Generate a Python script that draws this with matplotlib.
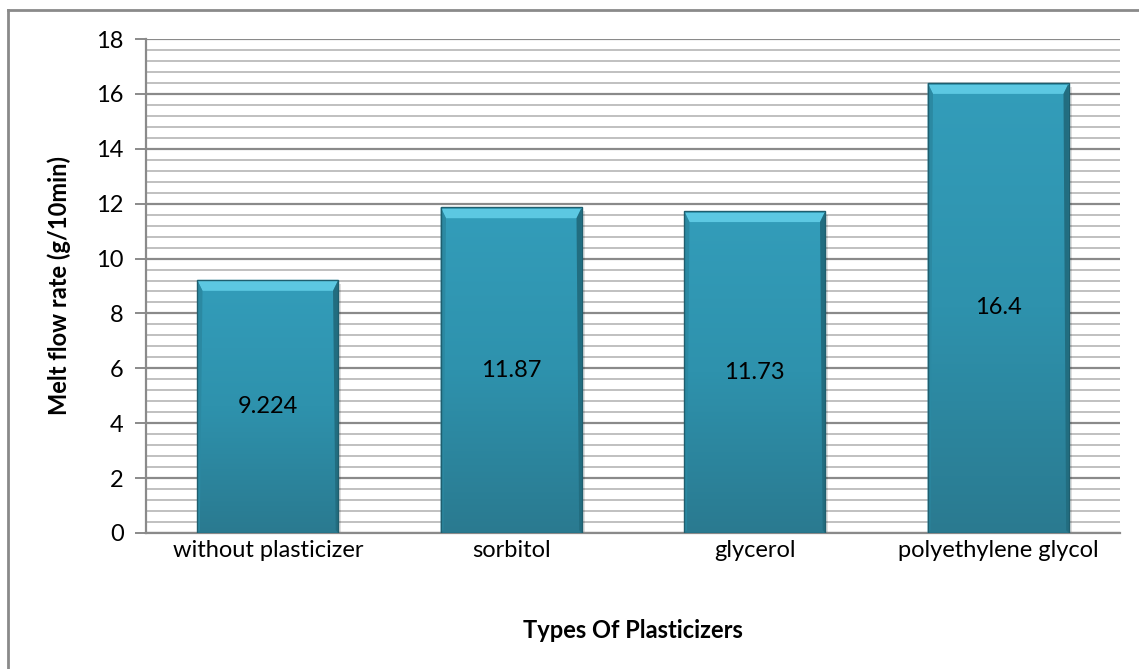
import matplotlib.pyplot as plt
import numpy as np
from matplotlib.patches import Polygon, Rectangle
from matplotlib.lines import Line2D
from matplotlib.colors import LinearSegmentedColormap

plt.rcParams['font.family'] = ['Lato', 'DejaVu Sans']

categories = ['without plasticizer', 'sorbitol', 'glycerol', 'polyethylene glycol']
melt_flow = [9.224, 11.87, 11.73, 16.4]
value_labels = ['9.224', '11.87', '11.73', '16.4']

fig = plt.figure(figsize=(11.39, 6.69), dpi=100)
ax = fig.add_axes([0.1282, 0.2033, 0.8551, 0.7384])

x = np.arange(len(categories))
width = 0.58

ax.set_xlim(-0.5, len(categories) - 0.5)
ax.set_ylim(0, 18)

# grid: major every 2, minor every 0.4
ax.set_yticks(np.arange(0, 19, 2))
ax.set_yticks(np.arange(0, 18.01, 0.4), minor=True)
ax.grid(axis='y', which='major', color='#8a8a8a', lw=1.6, zorder=0)
ax.grid(axis='y', which='minor', color='#c0c0c0', lw=1.4, zorder=0)
ax.set_axisbelow(True)

for s in ['top', 'right']:
    ax.spines[s].set_visible(False)
ax.spines['left'].set_color('#8a8a8a')
ax.spines['bottom'].set_color('#8a8a8a')
ax.spines['left'].set_linewidth(1.6)
ax.spines['bottom'].set_linewidth(1.6)

ax.tick_params(axis='y', which='major', length=8, color='#8a8a8a', width=1.4,
               labelsize=17, pad=8)
ax.tick_params(axis='y', which='minor', length=0)
ax.tick_params(axis='x', length=0, labelsize=17, pad=5)
ax.set_xticks(x)
ax.set_xticklabels(categories)

cmap = LinearSegmentedColormap.from_list('bar', ['#2a7a90', '#2e92ad', '#339dba'])
grad = np.linspace(0, 1, 256).reshape(-1, 1)

bars = ax.bar(x, melt_flow, width, color='#2e94af', edgecolor='none', zorder=3)
for rect, lab in zip(bars, value_labels):
    x0, w, h = rect.get_x(), rect.get_width(), rect.get_height()
    # soft drop shadow
    ax.add_patch(Rectangle((x0 + 0.012, -0.25), w, h + 0.1, color='#000000',
                           alpha=0.12, lw=0, zorder=2))
    im = ax.imshow(grad, cmap=cmap, aspect='auto', origin='lower',
                   extent=(x0, x0 + w, 0, h), zorder=3)
    im.set_clip_path(rect)
    # top bevel
    bev = 0.022
    bh = 0.4
    ax.add_patch(Polygon([(x0, h), (x0 + w, h), (x0 + w - bev, h - bh), (x0 + bev, h - bh)],
                         closed=True, color='#5cc8e2', lw=0, zorder=4))
    # side bevels
    ax.add_patch(Polygon([(x0 + w, h), (x0 + w, 0), (x0 + w - bev * 0.5, 0.1),
                          (x0 + w - bev, h - bh)],
                         closed=True, color='#226d80', lw=0, zorder=4))
    ax.add_patch(Polygon([(x0, h), (x0, 0), (x0 + bev * 0.5, 0.1), (x0 + bev, h - bh)],
                         closed=True, color='#2b89a2', lw=0, zorder=4))
    ax.add_patch(Rectangle((x0, h - 0.06), w, 0.06, color='#3aa7c2', lw=0, zorder=5))
    ax.add_patch(Rectangle((x0, 0), w, h, fill=False, ec='#1f5e6e', lw=1.0, zorder=5))
    ax.text(x0 + w / 2, h / 2, lab, ha='center', va='center', fontsize=17,
            color='black', zorder=6)

ax.set_ylabel('Melt flow rate (g/10min)', fontsize=17, fontweight='bold', labelpad=18)
ax.set_xlabel('Types Of Plasticizers', fontsize=17, fontweight='bold', labelpad=42)

# chart area border (top and left edges)
fig.add_artist(Line2D([8 / 1139, 8 / 1139], [0, 1 - 10 / 669], color='#8a8a8a', lw=2))
fig.add_artist(Line2D([8 / 1139, 1], [1 - 10 / 669, 1 - 10 / 669], color='#8a8a8a', lw=2))

fig.savefig('out.png', dpi=100)
